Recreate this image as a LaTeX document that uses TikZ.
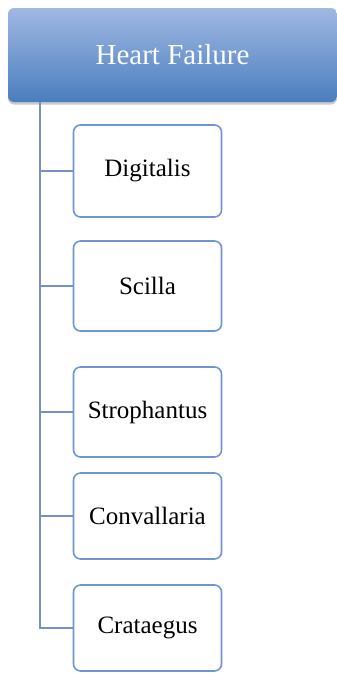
\documentclass[tikz,border=0pt]{standalone}
\usepackage{fontspec}
\setmainfont{Liberation Serif}
\usetikzlibrary{shadows}
\definecolor{headtop}{RGB}{160,184,226}
\definecolor{headbot}{RGB}{74,126,190}
\definecolor{boxline}{RGB}{110,150,210}
\definecolor{treeline}{RGB}{118,146,196}
\tikzset{
  headbox/.style={rounded corners=6pt, top color=headtop, bottom color=headbot,
    draw=none, text=white, minimum width=329pt, minimum height=94pt,
    font=\fontsize{29}{34}\selectfont, inner sep=0pt,
    drop shadow={shadow xshift=0pt, shadow yshift=-2.5pt, opacity=0.35, fill=black!60}},
  herb/.style={rounded corners=7pt, draw=boxline, line width=1.6pt, fill=white,
    minimum width=148pt, inner sep=0pt, font=\fontsize{25}{30}\selectfont},
  conn/.style={draw=treeline, line width=1.6pt}
}
\begin{document}
\begin{tikzpicture}[x=1pt, y=-1pt]
  \useasboundingbox (0,0) rectangle (337,673);
  \node[headbox] (hf) at (172.5,55) {Heart Failure};
  \coordinate (trunk) at (40,102);
  \node[herb, minimum height=92pt] (dig) at (147.5,171) {Digitalis};
  \node[herb, minimum height=90pt] (sci) at (147.5,286) {Scilla};
  \node[herb, minimum height=90pt] (str) at (147.5,412) {Strophantus};
  \node[herb, minimum height=86pt] (con) at (147.5,516) {Convallaria};
  \node[herb, minimum height=86pt] (cra) at (147.5,628) {Crataegus};
  \foreach \n in {dig,sci,str,con,cra}
    \draw[conn] (trunk) |- (\n.west);
\end{tikzpicture}
\end{document}
